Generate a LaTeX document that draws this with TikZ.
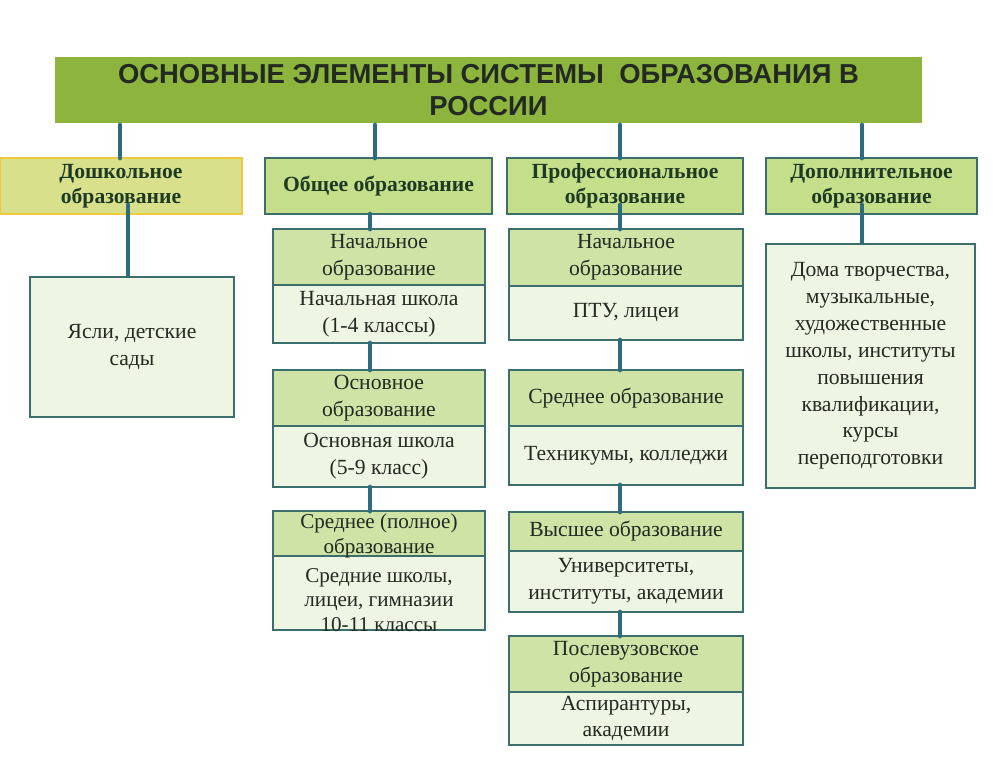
\documentclass[tikz,border=0pt]{standalone}
\usepackage{fontspec}
\setmainfont{Liberation Serif}
\newfontfamily\titlefont{Liberation Sans}
\usetikzlibrary{positioning}
\definecolor{barGreen}{HTML}{8DB53E}
\definecolor{headGreen}{HTML}{C5DE8A}
\definecolor{topGreen}{HTML}{CFE3A6}
\definecolor{paleGreen}{HTML}{EEF5E2}
\definecolor{frameTeal}{HTML}{3C6E6E}
\definecolor{linkTeal}{HTML}{2E6B7E}
\definecolor{preYellow}{HTML}{D8E08C}
\definecolor{preFrame}{HTML}{F0C83C}
\definecolor{inkDark}{HTML}{222A22}
\definecolor{headInk}{HTML}{1E3A22}
\tikzset{
  part/.style={draw=frameTeal, line width=1.6pt, align=center, inner sep=1pt,
    text=inkDark, font=\fontsize{12.3}{15.3}\selectfont},
  head/.style={part, fill=headGreen, text=headInk, font=\bfseries\fontsize{12.3}{14.5}\selectfont, minimum height=1.12cm},
  upper/.style={part, fill=topGreen},
  lower/.style={part, fill=paleGreen},
  loose/.style={align=center, text=inkDark, inner sep=0pt, font=\fontsize{12}{14}\selectfont},
  link/.style={draw=linkTeal, line width=2.8pt, line cap=round}
}
\begin{document}
\begin{tikzpicture}

		\useasboundingbox (0,0) rectangle (20,-15.22);

		% title bar
		\node[fill=barGreen, minimum width=17.34cm, minimum height=1.32cm, align=center, text=inkDark,
		      font=\titlefont\bfseries\fontsize{15.6}{18.5}\selectfont] (title) at (9.77,-1.8)
		      {ОСНОВНЫЕ ЭЛЕМЕНТЫ СИСТЕМЫ\ \ ОБРАЗОВАНИЯ В\\РОССИИ};

		% headers
		\node[head, fill=preYellow, draw=preFrame, minimum width=4.84cm] (pre) at (2.42,-3.72) {Дошкольное\\образование};
		\node[head, minimum width=4.54cm] (gen) at (7.57,-3.72) {Общее образование};
		\node[head, minimum width=4.72cm] (pro) at (12.5,-3.72) {Профессиональное\\образование};
		\node[head, minimum width=4.22cm] (add) at (17.43,-3.72) {Дополнительное\\образование};

		% preschool
		\node[lower, minimum width=4.08cm, minimum height=2.8cm] (nursery) at (2.64,-6.94) {Ясли, детские\\сады};

		% general
		\node[upper, minimum width=4.24cm, minimum height=1.12cm] (genA) at (7.58,-5.14) {Начальное\\образование};
		\node[lower, minimum width=4.24cm, minimum height=1.16cm] (genAs) at (7.58,-6.28) {Начальная школа\\(1-4 классы)};
		\node[upper, minimum width=4.24cm, minimum height=1.12cm] (genB) at (7.58,-7.96) {Основное\\образование};
		\node[lower, minimum width=4.24cm, minimum height=1.22cm] (genBs) at (7.58,-9.13) {Основная школа\\(5-9 класс)};
		\node[upper, minimum width=4.24cm, minimum height=0.9cm] (genC) at (7.58,-10.67) {};
		\node[lower, minimum width=4.24cm, minimum height=1.48cm] (genCs) at (7.58,-11.86) {};
		\node[loose] (genCt) at (7.58,-10.72) {Среднее (полное)\\образование};
		\node[loose] (genCb) at (7.58,-12.0) {Средние школы,\\лицеи, гимназии\\10-11 классы};

		% professional
		\node[upper, minimum width=4.68cm, minimum height=1.14cm] (proA) at (12.52,-5.15) {Начальное\\образование};
		\node[lower, minimum width=4.68cm, minimum height=1.08cm] (proAs) at (12.52,-6.26) {ПТУ, лицеи};
		\node[upper, minimum width=4.68cm, minimum height=1.12cm] (proB) at (12.52,-7.96) {Среднее образование};
		\node[lower, minimum width=4.68cm, minimum height=1.18cm] (proBs) at (12.52,-9.11) {Техникумы, колледжи};
		\node[upper, minimum width=4.68cm, minimum height=0.78cm] (proC) at (12.52,-10.63) {Высшее образование};
		\node[lower, minimum width=4.68cm, minimum height=1.22cm] (proCs) at (12.52,-11.63) {Университеты,\\институты, академии};
		\node[upper, minimum width=4.68cm, minimum height=1.12cm] (proD) at (12.52,-13.28) {Послевузовское\\образование};
		\node[lower, minimum width=4.68cm, minimum height=1.06cm] (proDs) at (12.52,-14.37) {Аспирантуры,\\академии};

		% additional
		\node[lower, minimum width=4.18cm, minimum height=4.88cm] (extra) at (17.41,-7.32)
		      {Дома творчества,\\музыкальные,\\художественные\\школы, институты\\повышения\\квалификации,\\курсы\\переподготовки};

		% connectors
		\draw[link] (2.4,-2.5) -- (2.4,-3.16);
		\draw[link] (7.5,-2.5) -- (7.5,-3.16);
		\draw[link] (12.4,-2.5) -- (12.4,-3.16);
		\draw[link] (17.24,-2.5) -- (17.24,-3.16);
		\draw[link] (2.56,-4.1) -- (nursery.north -| 2.56,0);
		\draw[link] (7.4,-4.28) -- (7.4,-4.58);
		\draw[link] (7.4,-6.86) -- (7.4,-7.4);
		\draw[link] (7.4,-9.74) -- (7.4,-10.22);
		\draw[link] (12.4,-4.1) -- (12.4,-4.58);
		\draw[link] (12.4,-6.8) -- (12.4,-7.4);
		\draw[link] (12.4,-9.7) -- (12.4,-10.24);
		\draw[link] (12.4,-12.24) -- (12.4,-12.72);
		\draw[link] (17.24,-4.1) -- (extra.north -| 17.24,0);

\end{tikzpicture}
\end{document}
